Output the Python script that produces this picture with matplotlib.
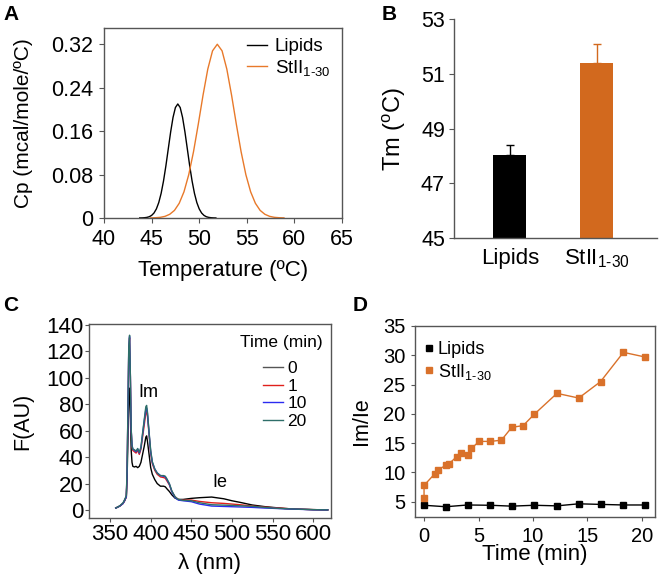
import matplotlib
matplotlib.use("Agg")
from matplotlib import pyplot as plt
from matplotlib.lines import Line2D

plt.rcParams['font.family'] = ['Liberation Sans', 'DejaVu Sans']
plt.rcParams['mathtext.fontset'] = 'custom'
plt.rcParams['mathtext.rm'] = 'Liberation Sans'
plt.rcParams['mathtext.it'] = 'Liberation Sans:italic'

ORANGE = '#D9712A'
TEAL = '#2E6E69'
SPINE = '#555555'
STII = 'StII$_{\\mathrm{1\\text{-}30}}$'

# --- A: DSC thermograms ---
lip_temp = [43.75, 44.0, 44.25, 44.5, 44.75, 45.0, 45.25, 45.5, 45.75, 46.0, 46.25, 46.5,
            46.75, 47.0, 47.25, 47.5, 47.75, 48.0, 48.25, 48.5, 48.75, 49.0, 49.25, 49.5,
            49.75, 50.0, 50.25, 50.5, 50.75, 51.0, 51.25, 51.5, 51.75]
lip_cp = [0.0001, 0.0002, 0.0005, 0.0011, 0.0023, 0.0048, 0.0092, 0.0167, 0.0284, 0.0454,
          0.0682, 0.0961, 0.1274, 0.1585, 0.1853, 0.2035, 0.2100, 0.2035, 0.1853, 0.1585,
          0.1274, 0.0961, 0.0682, 0.0454, 0.0284, 0.0167, 0.0092, 0.0048, 0.0023, 0.0011,
          0.0005, 0.0002, 0.0001]
stii_temp = [44.9, 45.4, 45.9, 46.4, 46.9, 47.4, 47.9, 48.4, 48.9, 49.4, 49.9, 50.4, 50.9,
             51.4, 51.9, 52.4, 52.9, 53.4, 53.9, 54.4, 54.9, 55.4, 55.9, 56.4, 56.9, 57.4,
             57.9, 58.4, 58.9]
stii_cp = [0.0002, 0.0005, 0.0012, 0.0030, 0.0068, 0.0140, 0.0271, 0.0483, 0.0798, 0.1220,
           0.1726, 0.2261, 0.2742, 0.3079, 0.3200, 0.3079, 0.2742, 0.2261, 0.1726, 0.1220,
           0.0798, 0.0483, 0.0271, 0.0140, 0.0068, 0.0030, 0.0012, 0.0005, 0.0002]

# --- B: Tm bars ---
tm_labels = ['Lipids', STII]
tm_values = [48.05, 51.4]
tm_err = [0.35, 0.7]

# --- C: spectra ---
wl = [357, 362, 366, 368, 370, 371, 372, 373, 374, 375, 376, 377, 378, 380, 382, 384, 386,
      388, 390, 392, 394, 395, 396, 398, 400, 402, 405, 408, 412, 416, 418, 420, 423, 426,
      430, 434, 440, 450, 460, 475, 490, 500, 510, 525, 540, 550, 565, 575, 590, 600, 618]
f_t0 = [1.5, 3, 5, 7, 10, 25, 55, 85, 92, 70, 45, 36, 33, 32.5, 33, 32, 33, 36, 42, 48, 55,
        56, 52, 42, 32, 27, 23, 20, 18, 18, 17.5, 16, 14, 11.5, 9, 8, 8, 8.8, 9.3, 9.8, 8.5,
        7, 5.8, 3.8, 2.6, 2, 1.2, 0.8, 0.5, 0.3, 0.1]
f_t1 = [1.5, 3, 5, 7.5, 10, 30, 75, 120, 130, 100, 60, 48, 45, 44, 43, 45, 42, 46, 55, 64,
        73, 75, 71, 57, 43, 35, 30, 27, 25, 24.5, 24, 22, 19, 14, 10, 8, 7.5, 7.5, 6.5, 5.5,
        5, 4.5, 4, 3, 2.2, 1.8, 1.2, 0.8, 0.5, 0.3, 0.1]
f_t10 = [1.5, 3, 5, 7.5, 10, 30, 76, 122, 131, 100, 60, 49, 46, 45, 44, 46, 43, 47, 57, 67,
         76, 77, 73, 58, 44, 36, 31, 28, 26, 25.5, 25, 23, 19.5, 14, 9.5, 7.5, 7, 6.3, 4.5,
         3, 2.7, 2.5, 2.3, 2, 1.5, 1.3, 0.9, 0.7, 0.4, 0.2, 0.1]
f_t20 = [1.5, 3.2, 5.5, 8, 11, 32, 78, 124, 132, 101, 61, 49, 46, 45.5, 44.5, 46.5, 43.5,
         47.5, 58, 68, 78, 79, 74, 59, 45, 36.5, 31, 28, 26, 26, 25.5, 23.5, 20, 14.5, 10, 8,
         7.3, 7, 5.5, 4, 3.7, 3.5, 3.2, 2.8, 2, 1.5, 1, 0.8, 0.5, 0.3, 0.1]
spectra = [('0', f_t0, 'black'), ('1', f_t1, '#E0201B'), ('10', f_t10, '#2B2BF0'),
           ('20', f_t20, TEAL)]

# --- D: Im/Ie ratio over time ---
lip_time = [0, 2.0, 4.0, 6.1, 8.05, 10.1, 12.2, 14.2, 16.2, 18.3, 20.3]
lip_ratio = [4.4, 4.15, 4.45, 4.4, 4.25, 4.4, 4.3, 4.65, 4.55, 4.45, 4.45]
stii_time = [0, 0, 1.0, 1.3, 2.0, 2.3, 3.0, 3.35, 4.0, 4.35, 5.05, 6.05, 7.1, 8.05, 9.1,
             10.1, 12.2, 14.2, 16.2, 18.3, 20.3]
stii_ratio = [5.7, 7.8, 9.8, 10.5, 11.2, 11.5, 12.7, 13.4, 12.9, 14.1, 15.3, 15.3, 15.5,
              17.7, 18.0, 19.9, 23.5, 22.7, 25.5, 30.5, 29.7]

W, H = 660, 579
fig = plt.figure(figsize=(6.6, 5.79), dpi=100)


def fpos(x, y):
    # pixel position (from top-left) -> figure fraction
    return (x / W, 1 - y / H)


def style(ax, size, length=3, pad=3, box=True):
    for s in ax.spines.values():
        s.set_color(SPINE)
        s.set_linewidth(1.0)
    if not box:
        ax.spines['top'].set_visible(False)
        ax.spines['right'].set_visible(False)
    ax.tick_params(labelsize=size, length=length, width=0.8, color=SPINE, pad=pad)


# A
ax = fig.add_axes([0.1576, 0.6235, 0.3606, 0.3282])
ax.plot(lip_temp, lip_cp, color='black', lw=1.0, label='Lipids')
ax.plot(stii_temp, stii_cp, color='#E8792A', lw=1.0, label=STII)
ax.set_xlim(40, 65)
ax.set_ylim(0, 0.35)
ax.set_xticks([40, 45, 50, 55, 60, 65])
ax.set_yticks([0, 0.08, 0.16, 0.24, 0.32])
ax.set_yticklabels(['0', '0.08', '0.16', '0.24', '0.32'])
style(ax, 15.5, length=3.5, pad=4.5)
ax.set_xlabel('Temperature (ºC)', fontsize=16, labelpad=7)
ax.set_ylabel('Cp (mcal/mole/ºC)', fontsize=15, labelpad=13)
ax.legend(loc='upper left', bbox_to_anchor=fpos(247, 38), bbox_transform=fig.transFigure,
          frameon=False, fontsize=13.5, handlelength=1.05, handletextpad=0.42,
          borderpad=0, borderaxespad=0, labelspacing=0.15)
fig.text(0.005, 0.965, 'A', fontsize=15, fontweight='bold')

# B
ax = fig.add_axes([0.6879, 0.5889, 0.3076, 0.3782])
bar_colors = ['black', '#D2691E']
xs = list(range(len(tm_values)))
ax.bar(xs, tm_values, width=0.38, color=bar_colors)
for x, v, e, c in zip(xs, tm_values, tm_err, bar_colors):
    ax.errorbar(x, v, yerr=[[0], [e]], color=c, capsize=3, elinewidth=1.0, capthick=1.0)
ax.set_ylim(45, 53)
ax.set_xlim(-0.64, 1.69)
ax.set_yticks([45, 47, 49, 51, 53])
ax.set_xticks(xs)
ax.set_xticklabels(tm_labels)
style(ax, 15.5, length=3.5, pad=3, box=False)
ax.tick_params(axis='x', length=0, pad=7, labelsize=16)
ax.set_ylabel('Tm ($^{\\mathrm{o}}$C)', fontsize=17, labelpad=9)
fig.text(0.578, 0.965, 'B', fontsize=15, fontweight='bold')

# C
ax = fig.add_axes([0.1348, 0.1054, 0.3667, 0.3351])
for lab, f, c in spectra:
    ax.plot(wl, f, color=c, lw=1.0, label=lab)
ax.set_xlim(324, 622)
ax.set_ylim(-6, 140.5)
ax.set_xticks([350, 400, 450, 500, 550, 600])
ax.set_yticks([0, 20, 40, 60, 80, 100, 120, 140])
style(ax, 16, length=3, pad=1)
ax.set_xlabel('λ (nm)', fontsize=16, labelpad=6)
ax.set_ylabel('F(AU)', fontsize=15.5, labelpad=9)
ax.text(397, 89, 'Im', fontsize=13, ha='center', va='center')
ax.text(485.5, 20.5, 'Ie', fontsize=13, ha='center', va='center')
leg = ax.legend(loc='upper left', bbox_to_anchor=fpos(263, 361),
                bbox_transform=fig.transFigure, frameon=False, fontsize=12.5,
                handlelength=1.15, handletextpad=0.25, labelspacing=0.14,
                borderpad=0, borderaxespad=0)
leg.get_lines()[0].set_color('#555555')
tx, ty = fpos(240, 342)
fig.text(tx, ty, 'Time (min)', fontsize=12.5, ha='left', va='center')
fig.text(0.005, 0.463, 'C', fontsize=15, fontweight='bold')

# D
ax = fig.add_axes([0.6288, 0.1071, 0.3636, 0.3299])
ax.plot(lip_time, lip_ratio, color='black', lw=1.0, marker='s', ms=5)
ax.plot(stii_time, stii_ratio, color=ORANGE, lw=1.0, marker='s', ms=5)
ax.set_xlim(-0.83, 21.2)
ax.set_ylim(2.4, 35)
ax.set_xticks([0, 5, 10, 15, 20])
ax.set_yticks([5, 10, 15, 20, 25, 30, 35])
style(ax, 14.5, length=3, pad=4)
ax.set_xlabel('Time (min)', fontsize=16, labelpad=-1)
ax.set_ylabel('Im/Ie', fontsize=15.5, labelpad=8)
handles = [Line2D([], [], ls='none', marker='s', ms=4.5, color='black'),
           Line2D([], [], ls='none', marker='s', ms=4.5, color=ORANGE)]
ax.legend(handles, ['Lipids', STII], loc='upper left', bbox_to_anchor=fpos(424, 341),
          bbox_transform=fig.transFigure, frameon=False, fontsize=13,
          handlelength=0.5, handletextpad=0.25, labelspacing=0.2,
          borderpad=0, borderaxespad=0)
fig.text(0.535, 0.463, 'D', fontsize=15, fontweight='bold')

plt.savefig('out.png', dpi=100)
plt.close()
